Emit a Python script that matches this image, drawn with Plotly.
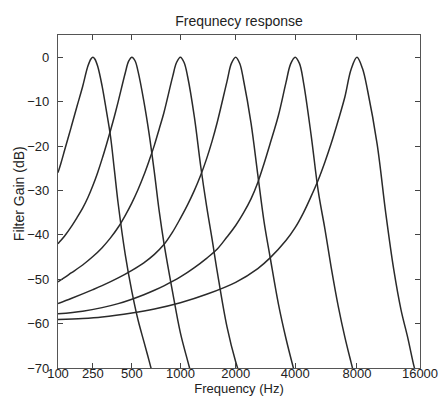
import numpy as np
import plotly.graph_objects as go

# ---- data (frequency in Hz, gain in dB) ----
freq_250 = [100, 110, 125, 150, 175, 200, 225, 240, 250, 260, 275, 300, 325, 350, 375, 400,
            450, 500, 550, 600, 650, 700]
gain_250 = [-26, -24.0, -20.8, -15.8, -11.0, -6.6, -2.0, -0.4, 0, -0.4, -2.0, -6.5, -12.1, -17.8,
            -25.5, -33, -44.5, -52.8, -59.2, -64, -68.5, -73]

freq_500 = [100, 110, 125, 150, 175, 200, 225, 250, 275, 300, 325, 350, 375, 400, 450, 475, 500,
            525, 550, 600, 650, 700, 750, 800, 900, 1000, 1100, 1200]
gain_500 = [-42, -41.3, -40.2, -38.2, -36.1, -34.0, -31.6, -28.9, -26.0, -22.9, -19.7, -16.5, -13.3,
            -10.0, -3.5, -0.9, 0, -0.8, -3.2, -9.9, -17.5, -26, -34.8, -41.8, -52.8, -62.1, -68.4, -74]

freq_1000 = [100, 125, 150, 200, 250, 300, 350, 400, 450, 500, 550, 600, 650, 700, 750, 800, 900,
             950, 1000, 1050, 1100, 1200, 1300, 1400, 1500, 1600, 1800, 2000, 2200]
gain_1000 = [-50.6, -49.6, -48.6, -46.8, -44.9, -42.9, -40.7, -38.3, -35.6, -32.8, -29.8, -26.6,
             -23.2, -19.8, -16.1, -12.5, -4.5, -1.2, 0, -1.2, -4.4, -13.5, -24.5, -33.5, -41,
             -48.4, -60.7, -68.6, -74]

freq_2000 = [100, 150, 200, 250, 300, 400, 500, 600, 700, 800, 900, 1000, 1100, 1200, 1300, 1400,
             1500, 1600, 1800, 1900, 2000, 2100, 2200, 2400, 2600, 2800, 3000, 3300, 3600, 4000]
gain_2000 = [-55.5, -54.35, -53.3, -52.35, -51.45, -49.7, -48.0, -46.3, -44.4, -42.2, -39.4, -36.3,
             -33.2, -30.0, -26.6, -22.9, -18.9, -14.6, -5.5, -1.4, 0, -1.4, -5.3, -14.8, -26.5,
             -37.2, -45, -55.5, -63.3, -71.5]

freq_4000 = [100, 200, 300, 400, 500, 600, 700, 800, 1000, 1200, 1400, 1600, 1800, 2000, 2200,
             2400, 2600, 2800, 3000, 3300, 3600, 3800, 4000, 4200, 4400, 4800, 5200, 5600, 6000,
             6500, 7000, 7500, 8000]
gain_4000 = [-57.8, -57.2, -56.4, -55.5, -54.5, -53.5, -52.5, -51.5, -49.5, -47.4, -45.3, -43.2,
             -40.5, -37.9, -35.0, -31.9, -28.2, -23.9, -19.5, -13.2, -5.8, -1.5, 0, -1.4, -5.7,
             -17.7, -30.3, -38.7, -47.2, -56.1, -63.1, -68.8, -74]

freq_8000 = [100, 200, 300, 500, 700, 1000, 1400, 2000, 2600, 3000, 3600, 4000, 4400, 4800, 5200,
             5600, 6000, 6500, 7000, 7500, 8000, 8500, 9000, 10000, 11000, 12000, 13000, 14000,
             15000, 15500]
gain_8000 = [-59.1, -58.85, -58.5, -57.6, -56.7, -55.3, -53.4, -50.7, -47.6, -45.2, -41.3, -38.4,
             -35.0, -31.3, -27.6, -23.6, -19.5, -14.2, -8.9, -2.7, 0, -2.5, -7.5, -19.6, -35.2,
             -47.8, -56.9, -63.2, -69.7, -72]

x_tick_freqs = [100, 250, 500, 1000, 2000, 4000, 8000, 16000]
x_tick_labels = ["100", "250", "500", "1000", "2000", "4000", "8000", "16000"]
y_ticks = [0, -10, -20, -30, -40, -50, -60, -70]

series = [(freq_250, gain_250), (freq_500, gain_500), (freq_1000, gain_1000),
          (freq_2000, gain_2000), (freq_4000, gain_4000), (freq_8000, gain_8000)]


def erb_rate(f):
    """ERB-rate (Cam) scale used by the frequency axis."""
    f = np.asarray(f, dtype=float)
    return 21.4 * np.log10(1 + 0.00437 * f)


FONT = "Liberation Sans, Arial, Helvetica, sans-serif"
W, H = 439, 402
L, R, T, B = 58, 19, 35, 34

fig = go.Figure()
for fr, g in series:
    fig.add_trace(go.Scatter(
        x=erb_rate(fr), y=g, mode="lines",
        line=dict(color="#2a2a2a", width=1.5, shape="spline", smoothing=1.0),
        showlegend=False, hoverinfo="skip"))

fig.update_layout(
    width=W, height=H,
    margin=dict(l=L, r=R, t=T, b=B, autoexpand=False),
    paper_bgcolor="white", plot_bgcolor="white",
    font=dict(family=FONT, size=12, color="#222"),
    title=dict(text="Frequnecy response", x=0.5, xref="paper", xanchor="center",
               y=1 - 20.7 / H, yref="container", yanchor="middle",
               font=dict(family=FONT, size=14, color="#222")),
    annotations=[dict(text="Filter Gain (dB)", textangle=-90, showarrow=False,
                      xref="paper", yref="paper", x=(19 - L) / (W - L - R), y=0.522,
                      xanchor="center", yanchor="middle",
                      font=dict(family=FONT, size=14, color="#222"))],
)
fig.update_xaxes(
    range=[float(erb_rate(100)), float(erb_rate(16000))],
    tickmode="array", tickvals=erb_rate(x_tick_freqs).tolist(), ticktext=x_tick_labels,
    ticks="inside", ticklen=5, tickwidth=1, tickcolor="#444",
    showline=True, linecolor="#555", linewidth=1.4, mirror="ticks",
    showgrid=False, zeroline=False, automargin=False,
    tickfont=dict(family=FONT, size=13, color="#222"),
    title=dict(text="Frequency (Hz)", font=dict(family=FONT, size=13, color="#222"), standoff=4),
    ticklabelstandoff=-7,
)
fig.update_yaxes(
    range=[-70, 5],
    tickmode="array", tickvals=y_ticks,
    ticks="inside", ticklen=5, tickwidth=1, tickcolor="#444",
    showline=True, linecolor="#555", linewidth=1.4, mirror="ticks",
    showgrid=False, zeroline=False, automargin=False,
    tickfont=dict(family=FONT, size=13, color="#222"),
    ticklabelstandoff=5,
)

fig.write_html("out.html", config={"displayModeBar": False},
               post_script="document.body.style.margin='0';")
